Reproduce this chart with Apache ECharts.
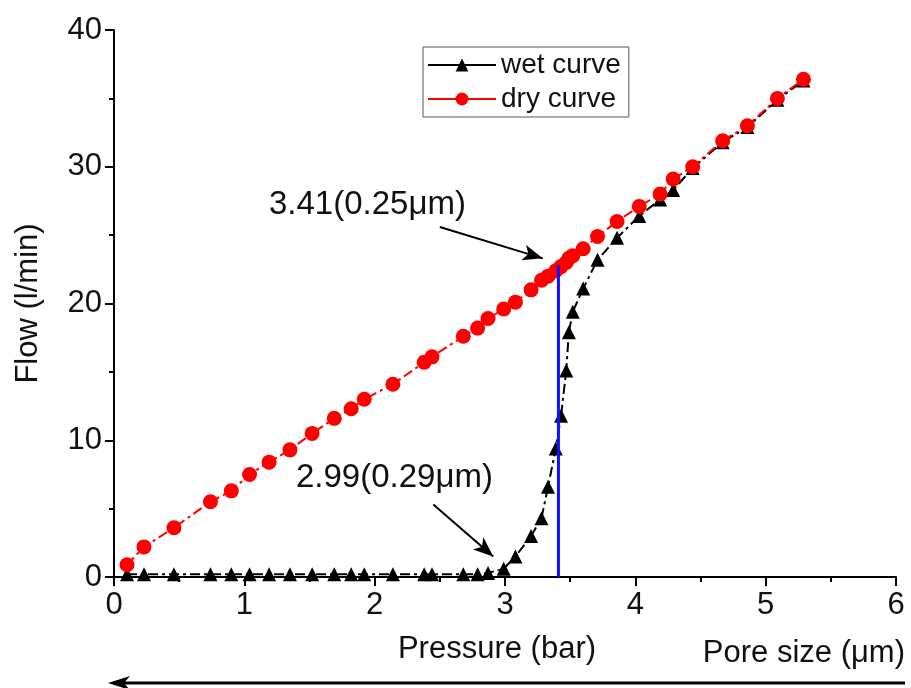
<!DOCTYPE html>
<html>
<head>
<meta charset="utf-8">
<script src="https://cdn.jsdelivr.net/npm/echarts@6/dist/echarts.min.js"></script>
<style>
  html, body { margin: 0; padding: 0; background: #fff; }
  #main { width: 911px; height: 688px; }
</style>
</head>
<body>
<div id="main"></div>
<script>
// 数据：压力 (bar) 与流量 (l/min)
var pressure = [0.10, 0.23, 0.46, 0.74, 0.90, 1.04, 1.19, 1.35, 1.52, 1.69, 1.82, 1.92, 2.14, 2.38, 2.44, 2.68, 2.79, 2.87, 2.99,
  3.08, 3.20, 3.28, 3.33, 3.39, 3.43, 3.47, 3.49, 3.52, 3.60, 3.71, 3.86, 4.03, 4.19, 4.29, 4.44, 4.67, 4.86, 5.09, 5.29];
var wetFlow = [0.2, 0.2, 0.2, 0.2, 0.2, 0.2, 0.2, 0.2, 0.2, 0.2, 0.2, 0.2, 0.2, 0.2, 0.2, 0.2, 0.2, 0.3, 0.6,
  1.5, 3.0, 4.3, 6.6, 9.4, 11.8, 15.1, 17.9, 19.4, 21.1, 23.2, 24.8, 26.4, 27.6, 28.3, 29.9, 31.8, 32.9, 34.9, 36.3];
var dryFlow = [0.9, 2.2, 3.6, 5.5, 6.3, 7.5, 8.4, 9.3, 10.5, 11.6, 12.3, 13.0, 14.1, 15.7, 16.1, 17.6, 18.2, 18.9, 19.6,
  20.1, 21.0, 21.7, 22.0, 22.4, 22.7, 23.0, 23.3, 23.5, 24.0, 24.9, 26.0, 27.1, 28.0, 29.1, 30.0, 31.9, 33.0, 35.0, 36.4];
var xTicks = [0, 1, 2, 3, 4, 5, 6];
var yTicks = [0, 10, 20, 30, 40];
// 泡点 / 平均孔径标注
var bubblePoint = { x: 2.99, label: '2.99(0.29\u03bcm)', tail: [2.45, 5.3], head: [2.91, 1.5] };
var meanPoint = { x: 3.41, top: 22.8, label: '3.41(0.25\u03bcm)', tail: [2.50, 25.6], head: [3.29, 23.3] };

var font = 'Liberation Sans, Arial, sans-serif';

function pairs(xs, ys) {
  return xs.map(function (x, i) { return [x, ys[i]]; });
}

var myChart = echarts.init(document.getElementById('main'));

var option = {
  backgroundColor: '#fff',
  animation: false,
  textStyle: { fontFamily: font },
  grid: { left: 114, right: 15, top: 30, bottom: 111 },
  legend: {
    orient: 'vertical',
    left: 423,
    top: 47,
    width: 200,
    padding: [4, 8, 4, 4],
    borderColor: '#555',
    borderWidth: 1,
    itemWidth: 68,
    itemHeight: 16,
    itemGap: 6,
    lineStyle: { type: 'solid' },
    textStyle: { fontSize: 28, color: '#111', fontFamily: font },
    data: ['wet curve', 'dry curve']
  },
  xAxis: {
    type: 'value',
    min: xTicks[0],
    max: xTicks[xTicks.length - 1],
    interval: 1,
    name: 'Pressure (bar)',
    nameLocation: 'middle',
    nameGap: 57,
    nameTextStyle: { fontSize: 31, color: '#111', padding: [0, 16, 0, 0] },
    axisLine: { onZero: false, lineStyle: { color: '#000', width: 2 } },
    axisTick: { inside: false, length: 9, lineStyle: { color: '#000', width: 2 } },
    minorTick: { show: true, splitNumber: 2, length: 5, lineStyle: { color: '#000', width: 2 } },
    axisLabel: { fontSize: 31, color: '#111', margin: 13 },
    splitLine: { show: false }
  },
  yAxis: {
    type: 'value',
    min: yTicks[0],
    max: yTicks[yTicks.length - 1],
    interval: 10,
    name: 'Flow (l/min)',
    nameLocation: 'middle',
    nameGap: 70,
    nameTextStyle: { fontSize: 31, color: '#111' },
    axisLine: { show: true, lineStyle: { color: '#000', width: 2 } },
    axisTick: { show: true, inside: false, length: 9, lineStyle: { color: '#000', width: 2 } },
    minorTick: { show: true, splitNumber: 2, length: 5, lineStyle: { color: '#000', width: 2 } },
    axisLabel: { fontSize: 31, color: '#111', margin: 12 },
    splitLine: { show: false }
  },
  series: [
    {
      name: 'wet curve',
      type: 'line',
      data: pairs(pressure, wetFlow),
      symbol: 'triangle',
      symbolSize: 14,
      itemStyle: { color: '#000' },
      lineStyle: { color: '#000', width: 2, type: [10, 4, 3, 4] },
      z: 2
    },
    {
      name: 'dry curve',
      type: 'line',
      data: pairs(pressure, dryFlow),
      symbol: 'circle',
      symbolSize: 15,
      itemStyle: { color: '#ff0000' },
      lineStyle: { color: '#ff0000', width: 2, type: [10, 4, 3, 4] },
      z: 3
    },
    {
      // 蓝色竖线 + 两个箭头
      name: 'marks',
      type: 'line',
      data: [[meanPoint.x, 0], [meanPoint.x, meanPoint.top]],
      symbol: 'none',
      lineStyle: { color: '#1010ff', width: 3 },
      z: 4,
      markLine: {
        silent: true,
        symbol: ['none', 'arrow'],
        symbolSize: [12, 20],
        label: { show: false },
        lineStyle: { color: '#000', width: 2, type: 'solid' },
        data: [
          [{ coord: meanPoint.tail }, { coord: meanPoint.head }],
          [{ coord: bubblePoint.tail }, { coord: bubblePoint.head }]
        ]
      }
    }
  ],
  graphic: [
    {
      type: 'text', left: 269, top: 188,
      style: { text: meanPoint.label, font: '33px ' + font, fill: '#111' }
    },
    {
      type: 'text', left: 296, top: 461,
      style: { text: bubblePoint.label, font: '33px ' + font, fill: '#111' }
    },
    {
      type: 'text', right: 6, top: 638,
      style: { text: 'Pore size (\u03bcm)', font: '31px ' + font, fill: '#111' }
    },
    {
      type: 'line',
      shape: { x1: 905, y1: 683, x2: 122, y2: 683 },
      style: { stroke: '#000', lineWidth: 3 }
    },
    {
      type: 'polygon',
      shape: { points: [[108, 683], [130, 676], [124, 683], [130, 690]] },
      style: { fill: '#000' }
    }
  ]
};

myChart.setOption(option);
</script>
</body>
</html>
